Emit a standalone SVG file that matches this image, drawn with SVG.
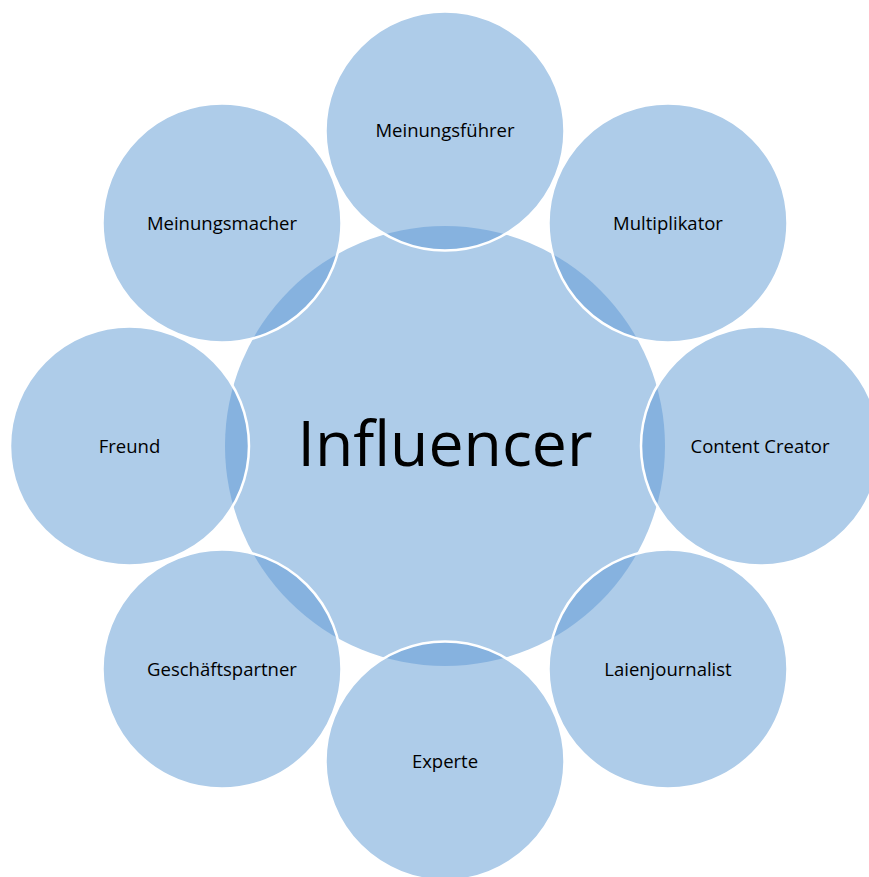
<svg xmlns="http://www.w3.org/2000/svg" width="869" height="877" viewBox="0 0 869 877">
<style>
.fill{fill:#AECCE9}
.lens{fill:#86B2DF}
.ring{fill:none;stroke:#FFFFFF;stroke-width:2.5}
.lbl{font-family:"Open Sans","Liberation Sans",sans-serif;font-size:18.5px;fill:#000;text-anchor:middle}
.big{font-family:"Open Sans","Liberation Sans",sans-serif;font-size:62.5px;fill:#000;text-anchor:middle}
</style>
<defs>
<circle id="c0" cx="445" cy="446" r="220"/>
<clipPath id="k1"><circle cx="445" cy="131" r="119.5"/></clipPath>
<clipPath id="k2"><circle cx="668" cy="223" r="119.5"/></clipPath>
<clipPath id="k3"><circle cx="760.5" cy="446" r="119.5"/></clipPath>
<clipPath id="k4"><circle cx="668" cy="669" r="119.5"/></clipPath>
<clipPath id="k5"><circle cx="445" cy="761" r="119.5"/></clipPath>
<clipPath id="k6"><circle cx="222" cy="669" r="119.5"/></clipPath>
<clipPath id="k7"><circle cx="129.5" cy="446" r="119.5"/></clipPath>
<clipPath id="k8"><circle cx="222" cy="223" r="119.5"/></clipPath>
</defs>
<rect width="869" height="877" fill="#FFFFFF"/>
<g id="center">
<use href="#c0" class="fill"/>
</g>
<g id="n1">
<circle cx="445" cy="131" r="119.5" class="fill"/>
<use href="#c0" class="lens" clip-path="url(#k1)"/>
<circle cx="445" cy="131" r="119.5" class="ring"/>
<text x="445" y="137" class="lbl">Meinungsführer</text>
</g>
<g id="n2">
<circle cx="668" cy="223" r="119.5" class="fill"/>
<use href="#c0" class="lens" clip-path="url(#k2)"/>
<circle cx="668" cy="223" r="119.5" class="ring"/>
<text x="668" y="230" class="lbl">Multiplikator</text>
</g>
<g id="n3">
<circle cx="760.5" cy="446" r="119.5" class="fill"/>
<use href="#c0" class="lens" clip-path="url(#k3)"/>
<circle cx="760.5" cy="446" r="119.5" class="ring"/>
<text x="760" y="452.5" class="lbl">Content Creator</text>
</g>
<g id="n4">
<circle cx="668" cy="669" r="119.5" class="fill"/>
<use href="#c0" class="lens" clip-path="url(#k4)"/>
<circle cx="668" cy="669" r="119.5" class="ring"/>
<text x="668" y="675.5" class="lbl">Laienjournalist</text>
</g>
<g id="n5">
<circle cx="445" cy="761" r="119.5" class="fill"/>
<use href="#c0" class="lens" clip-path="url(#k5)"/>
<circle cx="445" cy="761" r="119.5" class="ring"/>
<text x="445" y="767.5" class="lbl">Experte</text>
</g>
<g id="n6">
<circle cx="222" cy="669" r="119.5" class="fill"/>
<use href="#c0" class="lens" clip-path="url(#k6)"/>
<circle cx="222" cy="669" r="119.5" class="ring"/>
<text x="222" y="675.5" class="lbl">Geschäftspartner</text>
</g>
<g id="n7">
<circle cx="129.5" cy="446" r="119.5" class="fill"/>
<use href="#c0" class="lens" clip-path="url(#k7)"/>
<circle cx="129.5" cy="446" r="119.5" class="ring"/>
<text x="129.5" y="452.5" class="lbl">Freund</text>
</g>
<g id="n8">
<circle cx="222" cy="223" r="119.5" class="fill"/>
<use href="#c0" class="lens" clip-path="url(#k8)"/>
<circle cx="222" cy="223" r="119.5" class="ring"/>
<text x="222" y="230" class="lbl">Meinungsmacher</text>
</g>
<g id="center-label">
<text x="445" y="466" class="big">Influencer</text>
</g>
<g id="connectors"/>
</svg>
